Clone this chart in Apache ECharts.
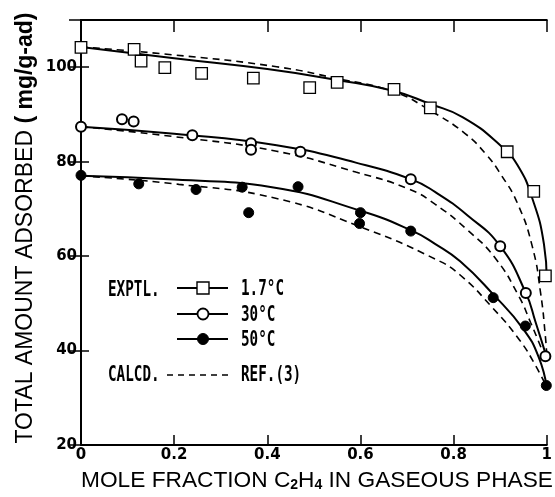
<!DOCTYPE html>
<html><head><meta charset="utf-8">
<script src="https://cdn.jsdelivr.net/npm/echarts@6/dist/echarts.min.js"></script>
<style>html,body{margin:0;padding:0;background:#fff}#c{width:555px;height:497px}</style>
</head><body><div id="c"></div>
<script>
// ---- axis ticks ----
const xTickValues = [0, 0.2, 0.4, 0.6, 0.8, 1];
const xTickLabels = ['0', '0.2', '0.4', '0.6', '0.8', '1'];
const yTickValues = [20, 40, 60, 80, 100];
const yTickLabels = ['20', '40', '60', '80', '100'];

// ---- experimental points [mole fraction, amount] ----
const exp17 = [[0,104.2],[0.114,103.8],[0.129,101.3],[0.18,99.9],[0.259,98.7],[0.37,97.7],[0.491,95.7],[0.55,96.8],[0.672,95.3],[0.75,91.4],[0.915,82.1],[0.972,73.7],[0.997,55.8]];
const exp30 = [[0,87.4],[0.088,89.0],[0.113,88.5],[0.239,85.6],[0.365,83.9],[0.365,82.5],[0.471,82.1],[0.708,76.3],[0.9,62.1],[0.955,52.2],[0.997,38.8]];
const exp50 = [[0,77.1],[0.124,75.3],[0.247,74.1],[0.346,74.6],[0.36,69.2],[0.466,74.7],[0.6,69.2],[0.598,66.9],[0.708,65.3],[0.885,51.2],[0.954,45.2],[0.999,32.6]];

// ---- fitted curves (solid) ----
const fit17 = [[0,104.3],[0.2,101.9],[0.4,99.6],[0.55,97.3],[0.67,95.0],[0.75,92.2],[0.82,89.4],[0.9,83.5],[0.937,79.3],[0.969,72.2],[0.994,62.5],[1,55]];
const fit30 = [[0,87.4],[0.2,85.9],[0.42,83.5],[0.59,79.8],[0.708,76.3],[0.76,73.6],[0.83,68.6],[0.9,62.1],[0.955,52.2],[0.976,46.0],[1,38.5]];
const fit50 = [[0,77.0],[0.2,76.2],[0.41,74.6],[0.6,69.6],[0.708,65.5],[0.76,62.6],[0.814,58.9],[0.884,52.0],[0.95,44.5],[0.983,38.5],[1,32.2]];

// ---- calculated curves, Ref.(3) (dashed) ----
const calc17 = [[0,104.3],[0.2,102.6],[0.42,100.1],[0.55,97.6],[0.672,94.8],[0.75,90.8],[0.824,86.0],[0.87,81.5],[0.902,77.2],[0.937,71.2],[0.969,62.0],[0.987,52],[0.997,43],[1,39]];
const calc30 = [[0,87.4],[0.2,85.3],[0.42,82.2],[0.59,77.8],[0.704,74.2],[0.76,71.0],[0.83,65.5],[0.89,59.5],[0.94,51.5],[0.965,46.0],[0.987,40.8],[1,37.5]];
const calc50 = [[0,77.0],[0.21,75.2],[0.42,72.2],[0.6,66.2],[0.76,59.4],[0.814,56.0],[0.884,49.0],[0.941,42.3],[0.976,36.8],[1,32.2]];

const legendLabels = ['1.7°C', '30°C', '50°C'];

const chart = echarts.init(document.getElementById('c'), null, {renderer: 'canvas'});

function fmt(vals, labels) {
  return function (v) {
    for (let i = 0; i < vals.length; i++) if (Math.abs(vals[i] - v) < 1e-6) return labels[i];
    return '';
  };
}

const lineSolid = {color: '#000', width: 2};
const lineDash = {color: '#000', width: 1.6, type: [7, 5]};
function curve(data, style) {
  return {type: 'line', data: data, smooth: 0.5, symbol: 'none', clip: false,
          lineStyle: style, z: 2, silent: true};
}

const legendFont = 'bold 21px "DejaVu Sans Mono"';
const lx1 = 177, lx2 = 228, lmx = 203;
function legText(x, y, t) {
  return {type: 'text', x: x, y: y, scaleX: 0.68, style: {text: t, font: legendFont, fill: '#000', textAlign: 'left', textVerticalAlign: 'middle', align: 'left', verticalAlign: 'middle'}};
}
function legLine(y, dash) {
  return {type: 'line', shape: {x1: dash ? 167 : lx1, y1: y, x2: lx2, y2: y}, style: {stroke: '#000', lineWidth: dash ? 1.6 : 2, lineDash: dash ? [6, 5] : null}};
}

const option = {
  animation: false,
  backgroundColor: '#fff',
  grid: {left: 81, right: 2, top: 20, bottom: 52, containLabel: false},
  xAxis: [
    {type: 'value', min: 0, max: 1, interval: 0.2, position: 'bottom',
     axisLine: {lineStyle: {color: '#000', width: 2}},
     axisTick: {inside: true, length: 10, lineStyle: {color: '#000', width: 1.5}},
     splitLine: {show: false},
     axisLabel: {formatter: fmt(xTickValues, xTickLabels), color: '#000', fontFamily: 'DejaVu Sans', fontWeight: 'bold', fontSize: 15, margin: 3}},
    {type: 'value', min: 0, max: 1, interval: 0.2, position: 'top',
     axisLine: {lineStyle: {color: '#000', width: 2}},
     axisTick: {inside: true, length: 12, lineStyle: {color: '#000', width: 1.5}},
     splitLine: {show: false}, axisLabel: {show: false}}
  ],
  yAxis: [
    {type: 'value', min: 20, max: 110, interval: 20, position: 'left',
     axisLine: {show: true, lineStyle: {color: '#000', width: 2}},
     axisTick: {show: true, inside: true, length: 8, lineStyle: {color: '#000', width: 1.5}},
     splitLine: {show: false},
     axisLabel: {formatter: fmt(yTickValues, yTickLabels), showMaxLabel: false, color: '#000', fontFamily: 'DejaVu Sans', fontWeight: 'bold', fontSize: 15, margin: 4}},
    {type: 'value', min: 20, max: 110, interval: 20, position: 'right',
     axisLine: {show: true, lineStyle: {color: '#000', width: 2}},
     axisTick: {show: true, inside: true, length: 12, lineStyle: {color: '#000', width: 1.5}},
     splitLine: {show: false}, axisLabel: {show: false}}
  ],
  series: [
    curve(fit17, lineSolid), curve(calc17, lineDash),
    curve(fit30, lineSolid), curve(calc30, lineDash),
    curve(fit50, lineSolid), curve(calc50, lineDash),
    {type: 'scatter', name: legendLabels[0], data: exp17, symbol: 'rect', symbolSize: 11.5, clip: false, z: 5,
     itemStyle: {color: '#fff', borderColor: '#000', borderWidth: 1.3, opacity: 1}},
    {type: 'scatter', name: legendLabels[1], data: exp30, symbol: 'circle', symbolSize: 10, clip: false, z: 5,
     itemStyle: {color: '#fff', borderColor: '#000', borderWidth: 2, opacity: 1}},
    {type: 'scatter', name: legendLabels[2], data: exp50, symbol: 'circle', symbolSize: 10, clip: false, z: 5,
     itemStyle: {color: '#000', borderColor: '#000', borderWidth: 1, opacity: 1}}
  ],
  graphic: [
    // axis titles
    {type: 'text', x: 26, y: 228, rotation: Math.PI / 2,
     style: {text: '{a|TOTAL AMOUNT ADSORBED }{b|( mg/g-ad)}', fill: '#000', textAlign: 'center', textVerticalAlign: 'middle', align: 'center', verticalAlign: 'middle',
       rich: {a: {font: '23px "Liberation Sans"', fill: '#000'}, b: {font: 'bold 23px "Liberation Sans"', fill: '#000'}}}},
    {type: 'text', x: 317, y: 481,
     style: {text: '{a|MOLE FRACTION C}{s|2}{a|H}{s|4}{a| IN GASEOUS PHASE}', fill: '#000', textAlign: 'center', textVerticalAlign: 'middle', align: 'center', verticalAlign: 'middle',
       rich: {a: {font: '22.7px "Liberation Sans"', fill: '#000'}, s: {font: 'bold 14px "Liberation Sans"', fill: '#000', verticalAlign: 'bottom', lineHeight: 10}}}},
    // legend
    legText(108, 291, 'EXPTL.'),
    legLine(288, false),
    {type: 'rect', shape: {x: lmx - 6, y: 282, width: 12, height: 12}, style: {fill: '#fff', stroke: '#000', lineWidth: 1.4}},
    legText(241, 290, legendLabels[0]),
    legLine(314, false),
    {type: 'circle', shape: {cx: lmx, cy: 314, r: 5.5}, style: {fill: '#fff', stroke: '#000', lineWidth: 1.8}},
    legText(241, 316, legendLabels[1]),
    legLine(339, false),
    {type: 'circle', shape: {cx: lmx, cy: 339, r: 5.5}, style: {fill: '#000', stroke: '#000', lineWidth: 1}},
    legText(241, 341, legendLabels[2]),
    legText(108, 376, 'CALCD.'),
    legLine(375, true),
    legText(241, 376, 'REF.(3)')
  ]
};
chart.setOption(option);
</script>
</body></html>
